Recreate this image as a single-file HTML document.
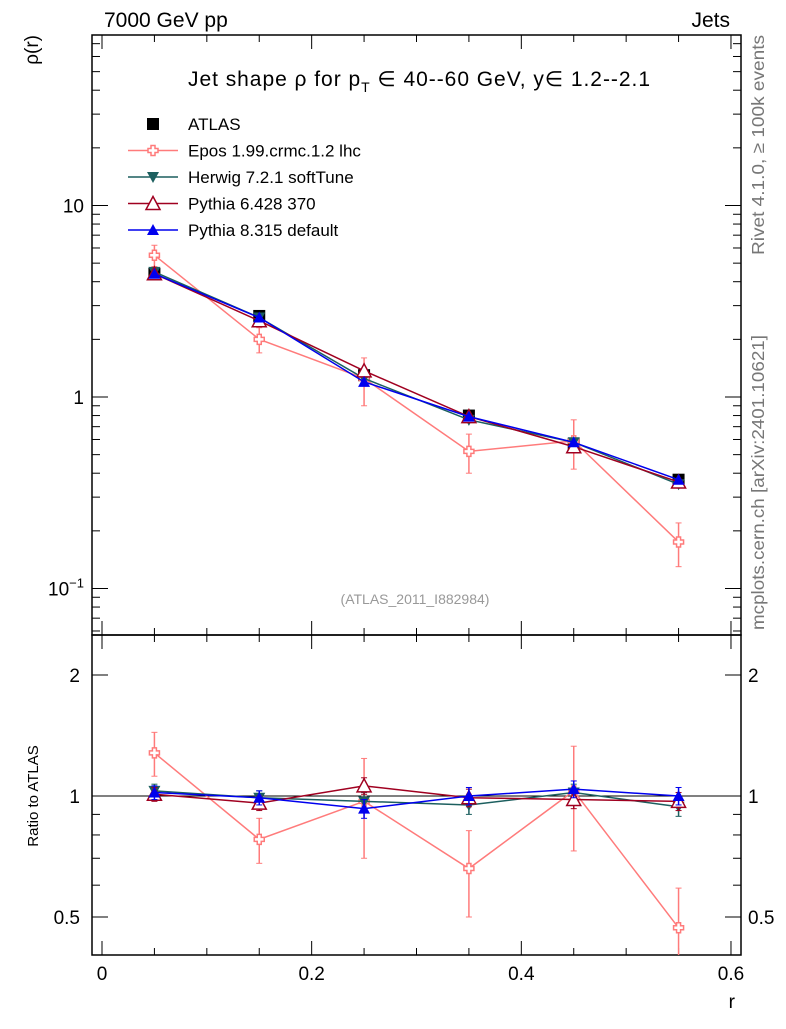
<!DOCTYPE html>
<html><head><meta charset="utf-8"><style>
body{margin:0;background:#fff;}
svg{font-family:"Liberation Sans",sans-serif;}
</style></head><body>
<svg id="c" width="786" height="1024" xmlns="http://www.w3.org/2000/svg"><defs><clipPath id="rc"><rect x="92" y="635" width="649" height="320"/></clipPath></defs></svg>
<script>
const rVals=[0.05,0.15,0.25,0.35,0.45,0.55];
const atlas=[4.4,2.65,1.3,0.8,0.57,0.37];
const atlasErr=[0.25,0.12,0.06,0.03,0.03,0.02];
const epos=[5.5,2.0,1.25,0.52,0.59,0.175];
const eposErr=[0.7,0.3,0.35,0.12,0.17,0.045];
const herwig=[4.5,2.6,1.25,0.76,0.58,0.35];
const pythia6=[4.4,2.5,1.37,0.79,0.55,0.36];
const pythia8=[4.4,2.6,1.2,0.79,0.58,0.37];
const ratioEpos=[1.28,0.78,0.97,0.66,1.03,0.47];
const ratioEposErr=[0.16,0.1,0.27,0.16,0.3,0.12];
const ratioHerwig=[1.03,0.99,0.97,0.95,1.02,0.94];
const ratioPy6=[1.01,0.96,1.06,0.99,0.98,0.97];
const ratioPy8=[1.02,0.99,0.93,1.0,1.04,1.0];
const ratioErr=[0.04,0.04,0.05,0.05,0.05,0.05];
const xTicks=[0,0.2,0.4,0.6];

const svg=document.getElementById('c');
const NS='http://www.w3.org/2000/svg';
function el(t,a,p){const e=document.createElementNS(NS,t);for(const k in a)e.setAttribute(k,a[k]);(p||svg).appendChild(e);return e;}
const X=v=>102+v*1048.3;
const Y=v=>397-Math.log10(v)*191.5;
const YR=v=>796-Math.log2(v)*121;
const L=92,R=741,T=35,M=635,B=955;

let f=el('rect',{x:L,y:T,width:R-L,height:M-T,fill:'none',stroke:'#000','stroke-width':1.5});

f=el('rect',{x:L,y:M,width:R-L,height:B-M,fill:'none',stroke:'#000','stroke-width':1.5});


for(let i=0;i<=12;i++){const v=i*0.05,x=X(v),len=(i%4==0)?14:7;
 el('line',{x1:x,y1:M,x2:x,y2:M-len,stroke:'#000'});el('line',{x1:x,y1:T,x2:x,y2:T+len,stroke:'#000'});
 el('line',{x1:x,y1:B,x2:x,y2:B-len,stroke:'#000'});el('line',{x1:x,y1:M,x2:x,y2:M+len,stroke:'#000'});}
xTicks.forEach(v=>{const t=el('text',{x:X(v),y:980,'font-size':19,'text-anchor':'middle'});t.textContent=String(v);
 });
let t=el('text',{x:735,y:1008,'font-size':19,'text-anchor':'end'});t.textContent='r';


for(let d=-2;d<=1;d++)for(let m=1;m<10;m++){const v=m*Math.pow(10,d);const y=Y(v);if(y<T||y>M)continue;
 const len=m==1?16:8;el('line',{x1:L,y1:y,x2:L+len,y2:y,stroke:'#000'});el('line',{x1:R,y1:y,x2:R-len,y2:y,stroke:'#000'});}
[['10',10],['1',1]].forEach(([s,v])=>{const t=el('text',{x:84,y:Y(v)+7,'font-size':19,'text-anchor':'end'});t.textContent=s;
 });
t=el('text',{x:84,y:Y(0.1)+7,'font-size':19,'text-anchor':'end'});t.innerHTML='10<tspan dy="-8" font-size="13">−1</tspan>';

t=el('text',{x:0,y:0,'font-size':19,'text-anchor':'end',transform:'translate(38,35) rotate(-90)'});t.textContent='ρ(r)';


[0.5,0.6,0.7,0.8,0.9,1,2].forEach(v=>{const y=YR(v);const len=(v==1||v==2||v==0.5)?16:8;
 el('line',{x1:L,y1:y,x2:L+len,y2:y,stroke:'#000'});el('line',{x1:R,y1:y,x2:R-len,y2:y,stroke:'#000'});});
[['2',2],['1',1],['0.5',0.5]].forEach(([s,v])=>{let t=el('text',{x:80,y:YR(v)+7,'font-size':19,'text-anchor':'end'});t.textContent=s;
 
 t=el('text',{x:748,y:YR(v)+7,'font-size':19});t.textContent=s;
 });
t=el('text',{x:0,y:0,'font-size':15,'text-anchor':'middle',transform:'translate(38,796) rotate(-90)'});t.textContent='Ratio to ATLAS';

el('line',{x1:L,y1:YR(1),x2:R,y2:YR(1),stroke:'#000'});

function txt(x,y,s,sz,name,extra){const t=el('text',Object.assign({x:x,y:y,'font-size':sz},extra||{}));t.innerHTML=s;
 return t;}
txt(104,27,'7000 GeV pp',21,'energy-label');
txt(730,27,'Jets',21,'process-label',{'text-anchor':'end'});
txt(188,86,'Jet shape ρ for p<tspan dy="6" font-size="14">T</tspan><tspan dy="-6"> ∈ 40--60 GeV, y∈ 1.2--2.1</tspan>',21,'plot-title',{textLength:462,lengthAdjust:'spacing'});
txt(415,604,'(ATLAS_2011_I882984)',14,'analysis-id',{'text-anchor':'middle',fill:'#999'});
txt(0,0,'Rivet 4.1.0, ≥ 100k events',17.5,'rivet-label',{fill:'#777',transform:'translate(764,255) rotate(-90)',textLength:220,lengthAdjust:'spacingAndGlyphs'});
txt(0,0,'mcplots.cern.ch [arXiv:2401.10621]',17.5,'mcplots-label',{fill:'#777',transform:'translate(764,630) rotate(-90)',textLength:295,lengthAdjust:'spacingAndGlyphs'});

function marker(type,x,y,col,g){
 if(type=='sq')return el('rect',{x:x-6,y:y-6,width:12,height:12,fill:col},g);
 if(type=='cross')return el('path',{d:`M${x-2} ${y-5}h4v3h3v4h-3v3h-4v-3h-3v-4h3z`,fill:'#fff',stroke:col,'stroke-width':1.5},g);
 if(type=='tdown')return el('path',{d:`M${x-6} ${y-5}L${x+6} ${y-5}L${x} ${y+6}z`,fill:col},g);
 if(type=='tup_o')return el('path',{d:`M${x-7} ${y+6}L${x+7} ${y+6}L${x} ${y-7}z`,fill:'#fff',stroke:col,'stroke-width':1.5},g);
 if(type=='tup')return el('path',{d:`M${x-6} ${y+5}L${x+6} ${y+5}L${x} ${y-6}z`,fill:col},g);
}
function series(name,vals,errs,col,type,ys,line,clip){
 const g=el('g',clip?{'clip-path':'url(#rc)'}:{});
 if(line){el('polyline',{points:vals.map((v,i)=>X(rVals[i])+','+ys(v)).join(' '),fill:'none',stroke:col,'stroke-width':1.5},g);}
 vals.forEach((v,i)=>{const x=X(rVals[i]);
  if(errs){const e=errs[i];const y1=ys(v+e),y2=ys(Math.max(v-e,0.01));
   el('line',{x1:x,y1:y1,x2:x,y2:y2,stroke:col,'stroke-width':1.5},g);
   el('line',{x1:x-3,y1:y1,x2:x+3,y2:y1,stroke:col},g);el('line',{x1:x-3,y1:y2,x2:x+3,y2:y2,stroke:col},g);}
  marker(type,x,ys(v),col,g);});
}
const cE='#ff7b7b',cH='#1c5f5f',cP6='#a00020',cP8='#0000ee';
series('atlas-data',atlas,atlasErr,'#000','sq',Y,false);
series('epos-series',epos,eposErr,cE,'cross',Y,true);
series('herwig-series',herwig,null,cH,'tdown',Y,true);
series('pythia6-series',pythia6,null,cP6,'tup_o',Y,true);
series('pythia8-series',pythia8,null,cP8,'tup',Y,true);
series('epos-ratio',ratioEpos,ratioEposErr,cE,'cross',YR,true,true);
series('herwig-ratio',ratioHerwig,ratioErr,cH,'tdown',YR,true,true);
series('pythia6-ratio',ratioPy6,ratioErr,cP6,'tup_o',YR,true,true);
series('pythia8-ratio',ratioPy8,ratioErr,cP8,'tup',YR,true,true);

const leg=[['ATLAS','#000','sq',false],['Epos 1.99.crmc.1.2 lhc',cE,'cross',true],['Herwig 7.2.1 softTune',cH,'tdown',true],['Pythia 6.428 370',cP6,'tup_o',true],['Pythia 8.315 default',cP8,'tup',true]];
leg.forEach((l,i)=>{const y=124+i*26.5;const g=el('g',{});
 if(l[3])el('line',{x1:128,y1:y,x2:178,y2:y,stroke:l[1],'stroke-width':1.5},g);
 marker(l[2],153,y,l[1],g);
 const t=el('text',{x:188,y:y+6,'font-size':17},g);t.textContent=l[0];});
</script>
</body></html>
